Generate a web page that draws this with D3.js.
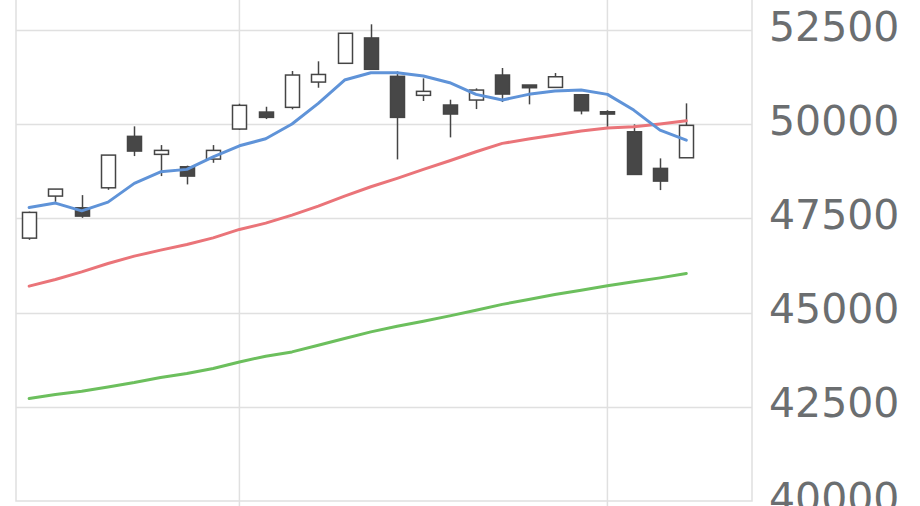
<!DOCTYPE html>
<html>
<head>
<meta charset="utf-8">
<script src="https://d3js.org/d3.v7.min.js"></script>
<style>
	html, body { margin: 0; padding: 0; background: #fff; }
	svg { display: block; }
</style>
</head>
<body>
<svg></svg>
<script>
// trading days (last two slots have no data yet)
var days = ['10/15','10/16','10/17','10/20','10/21','10/22','10/23','10/24','10/27','10/28',
	'10/29','10/30','10/31','11/04','11/05','11/06','11/07','11/10','11/11','11/12',
	'11/13','11/14','11/17','11/18','11/19','11/20','11/21','11/25'];
var gridDays = ['10/27', '11/17'];

var open  = [46976,48092,47781,48312,49677,49199,48870,49074,49871,50322,50447,51118,51616,
	52289,51270,50766,50509,50641,51305,51040,50977,50781,50330,49799,48827,49109];
var high  = [47680,48278,48118,49180,49943,49446,48900,49446,50543,50463,51411,51669,52413,
	52651,51403,51217,50650,50951,51491,51040,51358,50781,50370,49996,49093,50553];
var low   = [46931,47940,47515,48259,49154,48623,48402,48976,49850,50136,50394,50968,51600,
	51457,49066,50615,49650,50402,50588,50527,50977,50261,49932,48667,48251,49109];
var close = [47659,48278,47561,49180,49287,49305,48623,49305,50501,50181,51305,51320,52413,
	51457,50181,50872,50270,50906,50800,50968,51259,50357,50269,48667,48490,49969];

var ma5  = [47792,47906,47701,47932,48429,48737,48801,49135,49427,49613,50004,50553,51172,
	51366,51366,51278,51101,50792,50641,50792,50880,50907,50792,50375,49844,49578];
var ma25 = [45702,45880,46081,46304,46498,46658,46809,46984,47207,47375,47587,47826,48092,
	48339,48562,48801,49029,49268,49491,49605,49711,49818,49897,49932,50004,50091];
var ma75 = [42719,42826,42913,43027,43144,43277,43383,43516,43691,43843,43957,44135,44313,
	44488,44639,44772,44913,45064,45218,45348,45481,45595,45710,45816,45922,46039];

var yTicks = [40000, 42500, 45000, 47500, 50000, 52500];

var unit = {width: 920, height: 506};
var plot = {left: 16, right: 752, bottom: 501, top: 0};

var svg = d3.select('svg')
	.attr('width', unit.width)
	.attr('height', unit.height);

var x = d3.scaleBand()
	.domain(days)
	.range([plot.left, plot.right])
	.padding(0);

var y = d3.scaleLinear()
	.domain([40000, 52500])
	.range([plot.bottom, 30]);

var cx = (d) => x(d) + x.bandwidth() / 2;

var candles = days.slice(0, open.length).map(function(d, i){
	return {day: d, o: open[i], h: high[i], l: low[i], c: close[i]};
});

// grid
var gGrid = svg.append('g');
gGrid.selectAll('.hgrid')
	.data(yTicks.slice(1))
	.enter()
	.append('line')
	.attr('x1', plot.left).attr('x2', plot.right)
	.attr('y1', (d) => Math.round(y(d)) + 0.5)
	.attr('y2', (d) => Math.round(y(d)) + 0.5)
	.attr('stroke', '#e0e0e0')
	.attr('stroke-width', 1.5);

gGrid.selectAll('.vgrid')
	.data(gridDays)
	.enter()
	.append('line')
	.attr('x1', (d) => cx(d)).attr('x2', (d) => cx(d))
	.attr('y1', plot.top).attr('y2', unit.height)
	.attr('stroke', '#e0e0e0')
	.attr('stroke-width', 1.5);

// frame
gGrid.append('path')
	.attr('d', 'M' + plot.left + ',' + plot.top + 'V' + plot.bottom + 'H' + plot.right + 'V' + plot.top)
	.attr('fill', 'none')
	.attr('stroke', '#e0e0e0')
	.attr('stroke-width', 1.5);

// y labels on the right (bottom one runs off the page, as in the original)
svg.append('g')
	.selectAll('text')
	.data(yTicks)
	.enter()
	.append('text')
	.attr('x', 769)
	.attr('y', (d) => y(d) + 10.5)
	.attr('font-family', 'DejaVu Sans')
	.attr('font-size', 41)
	.attr('fill', '#6b6e70')
	.text((d) => d);

// candles
var bodyW = 14;
var gCandle = svg.append('g');
var candle = gCandle.selectAll('.candle')
	.data(candles)
	.enter()
	.append('g')
	.classed('candle', true);

candle.append('line')
	.attr('x1', (d) => Math.round(cx(d.day)) + 0.5)
	.attr('x2', (d) => Math.round(cx(d.day)) + 0.5)
	.attr('y1', (d) => y(d.h))
	.attr('y2', (d) => y(d.l))
	.attr('stroke', '#454545')
	.attr('stroke-width', 1.5);

candle.append('rect')
	.attr('x', (d) => Math.round(cx(d.day)) + 0.5 - bodyW / 2)
	.attr('width', bodyW)
	.attr('y', (d) => y(Math.max(d.o, d.c)))
	.attr('height', (d) => Math.max(1.5, Math.abs(y(d.o) - y(d.c))))
	.attr('fill', (d) => d.c >= d.o ? '#ffffff' : '#474747')
	.attr('stroke', '#454545')
	.attr('stroke-width', 1.5);

// moving averages
var line = d3.line()
	.x((d, i) => cx(days[i]))
	.y((d) => y(d));

var series = [
	{values: ma75, color: '#6cbf5d'},
	{values: ma25, color: '#ea7479'},
	{values: ma5,  color: '#5f93d8'}
];

svg.append('g')
	.selectAll('path')
	.data(series)
	.enter()
	.append('path')
	.attr('d', (d) => line(d.values))
	.attr('fill', 'none')
	.attr('stroke', (d) => d.color)
	.attr('stroke-width', 3)
	.attr('stroke-linejoin', 'round')
	.attr('stroke-linecap', 'round');
</script>
</body>
</html>
